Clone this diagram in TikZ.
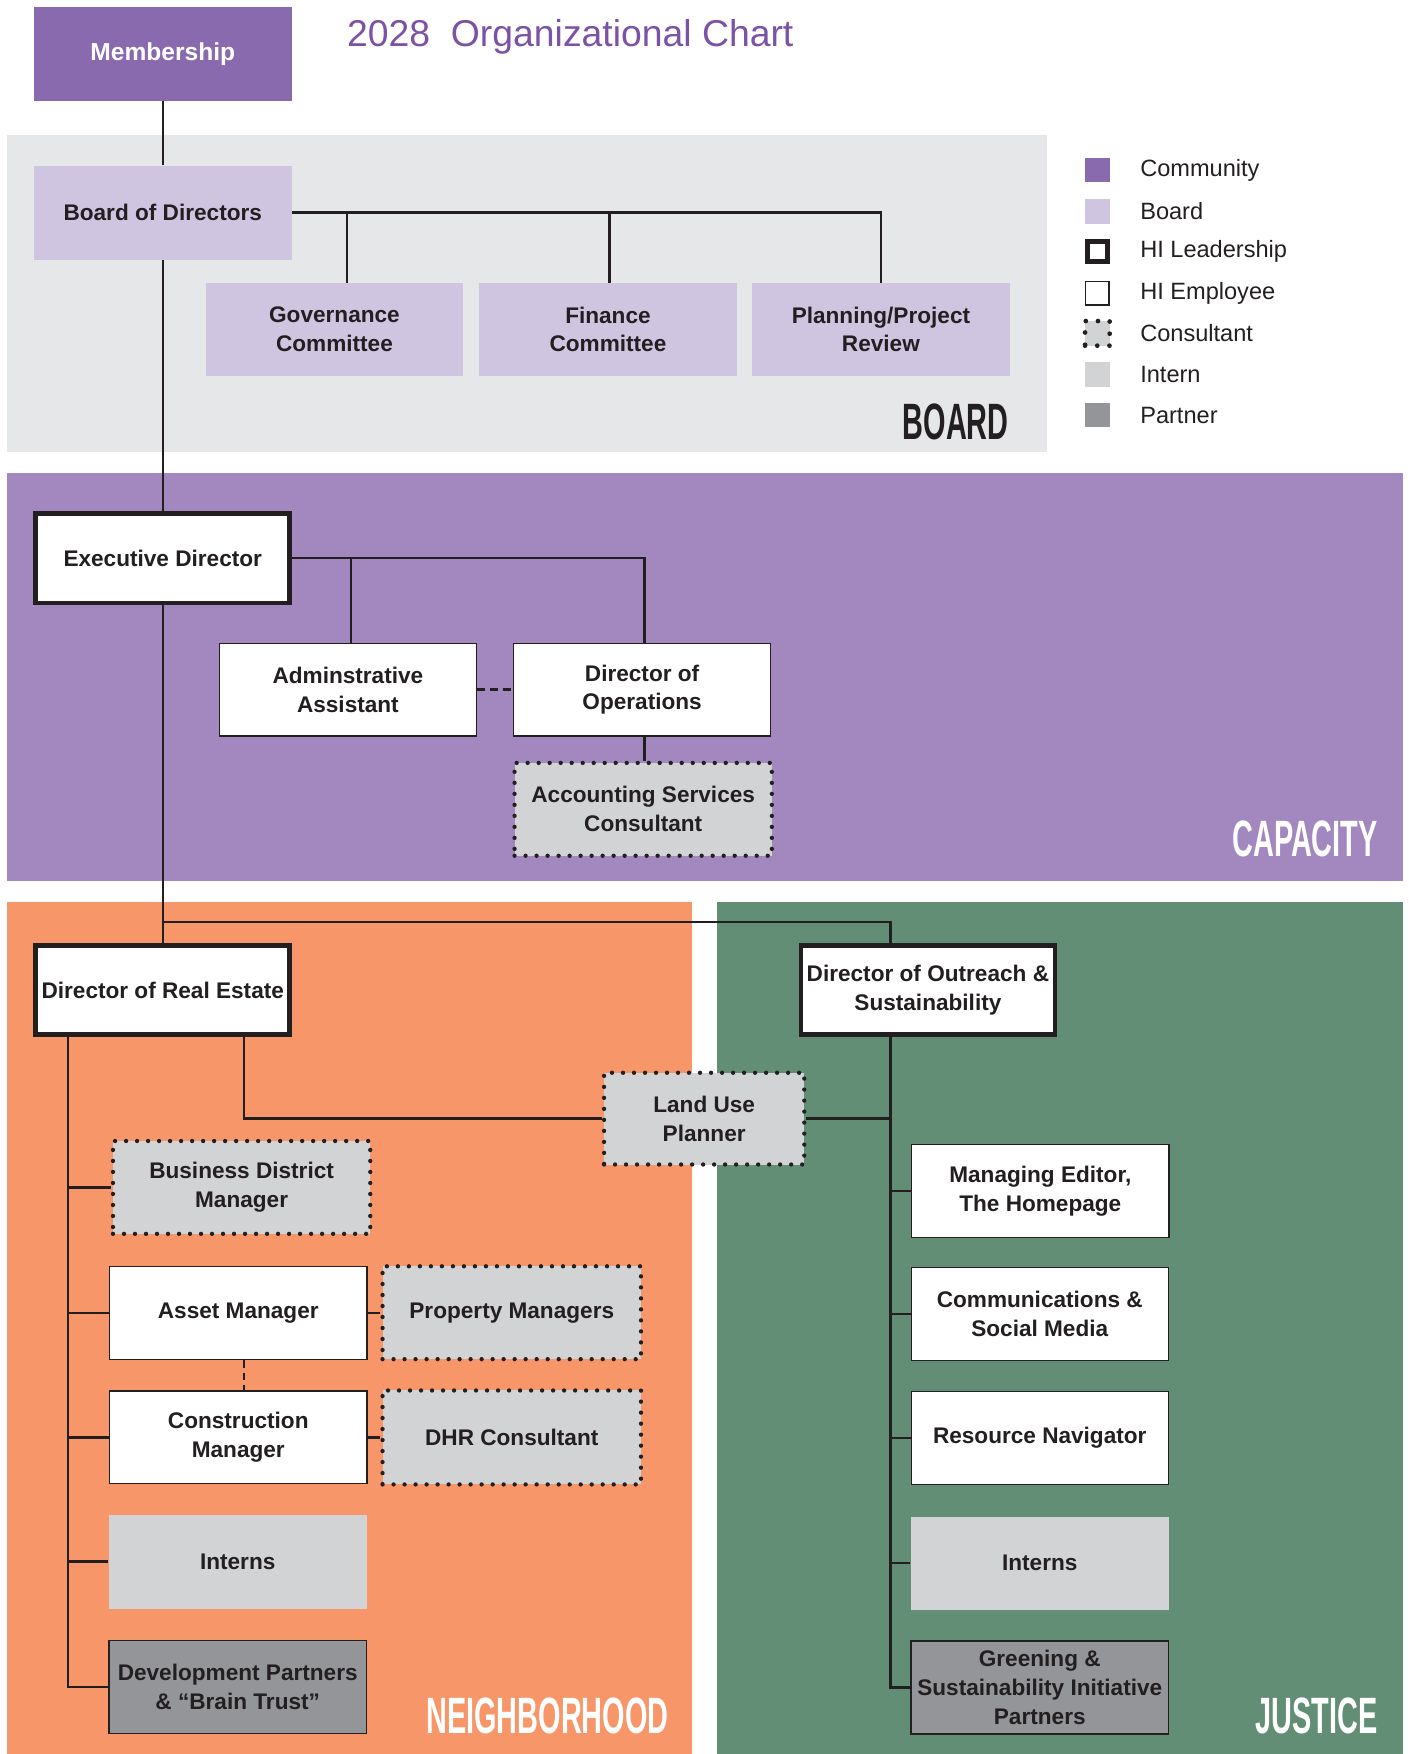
\documentclass[tikz,border=0pt]{standalone}
\usepackage{fontspec}
\usepackage{graphicx}
\setmainfont{Liberation Sans}
\usetikzlibrary{calc}
\definecolor{ink}{HTML}{231F20}
\definecolor{commc}{HTML}{8A6AAF}
\definecolor{boardc}{HTML}{D0C5E1}
\definecolor{internc}{HTML}{D1D3D4}
\definecolor{partnerc}{HTML}{939598}
\definecolor{boardbg}{HTML}{E6E7E8}
\definecolor{capbg}{HTML}{A388BF}
\definecolor{neighbg}{HTML}{F79669}
\definecolor{justbg}{HTML}{638E76}
\definecolor{titlec}{HTML}{7B52A6}
\newcommand\bxf{\bfseries\fontsize{11.5}{14.7}\selectfont}
\newcommand\reglab[1]{\scalebox{0.565}[1]{\bfseries\fontsize{26}{26}\selectfont #1}}
\begin{document}
\begin{tikzpicture}[x=0.02cm,y=-0.02cm,
  bx/.style 2 args={minimum width=#1*0.02cm, minimum height=#2*0.02cm},
  box/.style={rectangle, align=center, font=\bxf, text=ink, inner sep=0pt},
  comm/.style={box, fill=commc, text=white},
  brd/.style={box, fill=boardc},
  lead/.style={box, fill=white, draw=ink, line width=2.4pt},
  emp/.style={box, fill=white, draw=ink, line width=0.6pt},
  cons/.style={box, fill=internc, draw=ink, line width=2.2pt, dash pattern=on 0pt off 5.6pt, line cap=round},
  intern/.style={box, fill=internc},
  partner/.style={box, fill=partnerc, draw=ink, line width=0.8pt},
  ln/.style={draw=ink, line width=1.2pt},
  lg/.style={anchor=west, font=\fontsize{12}{14}\selectfont, text=ink, inner sep=0pt},
  rl/.style={anchor=base east, inner sep=0pt}
]
\useasboundingbox (0,0) rectangle (1259,1568);
% region backgrounds
\fill[boardbg] (6,121) rectangle (936,404);
\fill[capbg] (6,423) rectangle (1254,788);
\fill[neighbg] (6,806) rectangle (619,1568);
\fill[justbg] (641,806) rectangle (1254,1568);

% region labels
\node[rl, text=ink] (lboard) at (902,393) {\reglab{BOARD}};
\node[rl, text=white] (lcap) at (1232,766) {\reglab{CAPACITY}};
\node[rl, text=white] (lneigh) at (598,1550) {\reglab{NEIGHBORHOOD}};
\node[rl, text=white] (ljust) at (1232,1550) {\reglab{JUSTICE}};

% title
\node[anchor=base west, text=titlec, inner sep=0pt, font=\fontsize{19}{22}\selectfont] (title) at (310,42) {2028\ \ Organizational Chart};

% legend
\node[box, fill=commc, bx={22}{22}] (lg1) at (981,152) {};
\node[box, fill=boardc, bx={22}{22}] (lg2) at (981,189) {};
\node[box, fill=white, draw=ink, line width=2.4pt, bx={18}{18}] (lg3) at (981,225) {};
\node[box, fill=white, draw=ink, line width=0.7pt, bx={21}{21}] (lg4) at (981,262) {};
\node[box, fill=internc, draw=ink, line width=2.4pt, dash pattern=on 0pt off 6.2pt, line cap=round, bx={22}{22}] (lg5) at (981,298) {};
\node[box, fill=internc, bx={22}{22}] (lg6) at (981,335) {};
\node[box, fill=partnerc, bx={22}{22}] (lg7) at (981,371) {};
\node[lg] (lt1) at (1019,152) {Community};
\node[lg] (lt2) at (1019,189) {Board};
\node[lg] (lt3) at (1019,225) {HI Leadership};
\node[lg] (lt4) at (1019,262) {HI Employee};
\node[lg] (lt5) at (1019,298) {Consultant};
\node[lg] (lt6) at (1019,335) {Intern};
\node[lg] (lt7) at (1019,371) {Partner};

% board
\node[comm, bx={231}{84}, font=\bfseries\fontsize{12.5}{15}\selectfont] (mem) at (145.5,48) {Membership};
\node[brd, bx={231}{84}] (bod) at (145.5,190) {Board of Directors};
\node[brd, bx={230}{83}] (gov) at (299,294.5) {Governance\\Committee};
\node[brd, bx={230}{83}] (fin) at (543.5,294.5) {Finance\\Committee};
\node[brd, bx={231}{83}] (plan) at (787.5,294.5) {Planning/Project\\Review};

% capacity
\node[lead, bx={227}{80}] (exec) at (145.5,499) {Executive Director};
\node[emp, bx={230}{83}] (adm) at (311,616.5) {Adminstrative\\Assistant};
\node[emp, bx={230}{83}] (dop) at (574,616.5) {Director of\\Operations};
\node[cons, bx={230}{83}] (acc) at (575,723.5) {Accounting Services\\Consultant};

% neighborhood
\node[lead, bx={227}{80}] (dre) at (145.5,885) {Director of Real Estate};
\node[cons, bx={179}{82}] (lup) at (629.5,1000) {Land Use\\Planner};
\node[cons, bx={230}{83}] (bdm) at (216,1061.5) {Business District\\Manager};
\node[emp, bx={230}{83}] (am) at (213,1173.5) {Asset Manager};
\node[cons, bx={231}{83}] (pm) at (457.5,1173.5) {Property Managers};
\node[emp, bx={230}{83}] (cm) at (213,1285) {Construction\\Manager};
\node[cons, bx={231}{84}] (dhr) at (457.5,1285) {DHR Consultant};
\node[intern, bx={231}{84}] (int1) at (212.5,1396) {Interns};
\node[partner, bx={230}{83}] (dev) at (212.5,1508) {Development Partners\\\& “Brain Trust”};

% justice
\node[lead, bx={227}{80}] (dos) at (829.5,885) {Director of Outreach \&\\Sustainability};
\node[emp, bx={230}{83}] (me) at (930,1064.5) {Managing Editor,\\The Homepage};
\node[emp, bx={230}{83}] (cs) at (929.5,1174.5) {Communications \&\\Social Media};
\node[emp, bx={230}{83}] (rn) at (929.5,1285.5) {Resource Navigator};
\node[intern, bx={231}{83}] (int2) at (929.5,1397.5) {Interns};
\node[partner, bx={230}{83}] (gsp) at (929.5,1508.5) {Greening \&\\Sustainability Initiative\\Partners};

% spine coordinates
\coordinate (lsp) at (61,0);
\coordinate (rsp) at (218,0);
\coordinate (osp) at (796,0);
\coordinate (dsp) at (576,0);
\coordinate (hj) at (0,824);

% connectors
\draw[ln] (mem.south) -- (bod.north);
\draw[ln] (bod.south) -- (exec.north);
\draw[ln] (bod.east) -- (bod.east -| plan.north) -- (plan.north);
\draw[ln] ([xshift=0.22cm]gov.north) -- ([xshift=0.22cm]gov.north |- bod.east);
\draw[ln] ([xshift=0.03cm]fin.north) -- ([xshift=0.03cm]fin.north |- bod.east);

\draw[ln] (exec.east) -- (exec.east -| dsp) -- (dsp |- dop.north);
\draw[ln] ([xshift=0.06cm]adm.north) -- ([xshift=0.06cm]adm.north |- exec.east);
\draw[ln, dash pattern=on 4pt off 2.5pt] (adm.east) -- (dop.west);
\draw[ln] (dsp |- dop.south) -- (dsp |- acc.north);

\draw[ln] (exec.south) -- (dre.north);
\draw[ln] (exec.south |- hj) -- (osp |- hj) -- (osp |- dos.north);

\draw[ln] (dre.south -| lsp) -- (lsp |- dev.west) -- (dev.west);
\draw[ln] (lsp |- bdm.west) -- (bdm.west);
\draw[ln] (lsp |- am.west) -- (am.west);
\draw[ln] (lsp |- cm.west) -- (cm.west);
\draw[ln] (lsp |- int1.west) -- (int1.west);
\draw[ln] (dre.south -| rsp) -- (rsp |- lup.west) -- (lup.west);
\draw[ln] (lup.east) -- (lup.east -| osp);
\draw[ln] (am.east) -- (pm.west);
\draw[ln] (cm.east) -- (dhr.west);
\draw[ln, dash pattern=on 4pt off 2.5pt] ([xshift=0.1cm]am.south) -- ([xshift=0.1cm]cm.north);

\draw[ln] (dos.south -| osp) -- (osp |- gsp.west) -- (gsp.west);
\draw[ln] (osp |- me.west) -- (me.west);
\draw[ln] (osp |- cs.west) -- (cs.west);
\draw[ln] (osp |- rn.west) -- (rn.west);
\draw[ln] (osp |- int2.west) -- (int2.west);
\end{tikzpicture}
\end{document}
